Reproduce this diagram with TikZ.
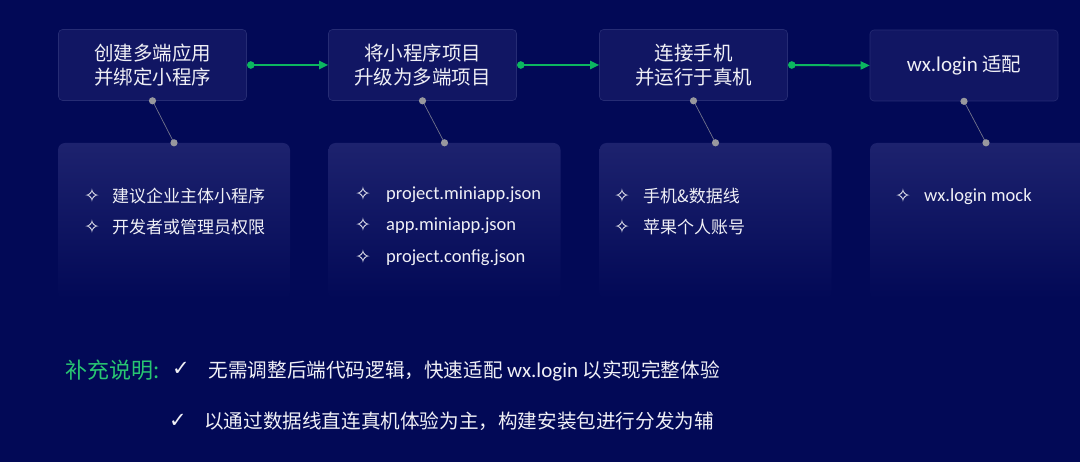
\documentclass[tikz,border=0pt]{standalone}
\usepackage{fontspec}
\setmainfont{Noto Sans CJK SC}
\newfontfamily\symfont{DejaVu Sans}
\newfontfamily\latfont{Carlito}
\usetikzlibrary{arrows.meta}
\definecolor{bg}{RGB}{2,9,86}
\definecolor{topfill}{RGB}{17,22,99}
\definecolor{topline}{RGB}{38,44,116}
\definecolor{lowtop}{RGB}{29,34,110}
\definecolor{arrowgreen}{RGB}{12,182,96}
\definecolor{labelgreen}{RGB}{40,198,114}
\definecolor{dotgray}{RGB}{152,152,158}
\definecolor{txt}{RGB}{240,240,246}
\tikzset{
  topbox/.style={draw=topline, fill=topfill, rounded corners=4pt, line width=0.6pt,
    minimum width=188pt, minimum height=71pt, inner sep=0pt, align=center,
    text=txt, font=\fontsize{19.5}{24}\selectfont},
  lowbox/.style={rounded corners=7pt, top color=lowtop, bottom color=bg, draw=none,
    minimum width=232pt, minimum height=156pt, inner sep=0pt},
  flow/.style={draw=arrowgreen, line width=2pt, shorten <=4pt,
    -{Triangle[length=9pt,width=8pt]}},
  conn/.style={draw=dotgray!75!bg, line width=0.7pt},
  bul/.style={font=\symfont\fontsize{19}{19}\selectfont, text=txt, inner sep=0pt},
  item/.style={font=\fontsize{17}{20}\selectfont, text=txt, inner sep=0pt, anchor=base west},
  litem/.style={item, font=\latfont\fontsize{18.5}{20}\selectfont},
  chk/.style={font=\symfont\fontsize{21}{21}\selectfont, text=txt, inner sep=0pt},
  note/.style={font=\fontsize{19.6}{24}\selectfont, text=txt, inner sep=0pt, anchor=base west},
}
\begin{document}
\begin{tikzpicture}[x=1pt,y=-1pt]
\useasboundingbox (0,0) rectangle (1080,462);
\clip (0,0) rectangle (1080,462);
\fill[bg] (0,0) rectangle (1080,462);

% lower detail boxes
\node[lowbox] (l1) at (174,221) {};
\node[lowbox] (l2) at (444.5,221) {};
\node[lowbox] (l3) at (715.5,221) {};
\node[lowbox] (l4) at (986,221) {};

% top step boxes
\node[topbox] (t1) at (152.5,65) {创建多端应用\\并绑定小程序};
\node[topbox] (t2) at (422.5,65) {将小程序项目\\升级为多端项目};
\node[topbox] (t3) at (693.5,65) {连接手机\\并运行于真机};
\node[topbox] (t4) at (964,65.5) {{\latfont\fontsize{21}{24}\selectfont wx.login} 适配};

% green flow arrows
\foreach \a/\b in {t1/t2,t2/t3,t3/t4}{
  \draw[flow] (\a.east) -- (\b.west);
  \fill[arrowgreen] ([xshift=4pt]\a.east) circle (3.8pt);
}

% gray connectors
\foreach \a/\b in {t1/l1,t2/l2,t3/l3,t4/l4}{
  \draw[conn] (\a.south) -- (\b.north);
  \fill[dotgray] (\a.south) circle (3.6pt);
  \fill[dotgray] (\b.north) circle (3.6pt);
}

% box 1 items
\node[bul] (b11) at (92,196) {✧};
\node[item] (i11) at (112,202.5) {建议企业主体小程序};
\node[bul] (b12) at (92,227) {✧};
\node[item] (i12) at (112,233.5) {开发者或管理员权限};

% box 2 items
\node[bul] (b21) at (363,193.5) {✧};
\node[litem] (i21) at (386,199.5) {project.miniapp.json};
\node[bul] (b22) at (363,225) {✧};
\node[litem] (i22) at (386,231) {app.miniapp.json};
\node[bul] (b23) at (363,256.5) {✧};
\node[litem] (i23) at (386,262.5) {project.config.json};

% box 3 items
\node[bul] (b31) at (622,196) {✧};
\node[item] (i31) at (643,202.5) {手机\&数据线};
\node[bul] (b32) at (622,227) {✧};
\node[item] (i32) at (643,233.5) {苹果个人账号};

% box 4 items
\node[bul] (b41) at (903,196) {✧};
\node[litem] (i41) at (924,202) {wx.login mock};

% notes
\node[note, text=labelgreen, font=\fontsize{22}{26}\selectfont] (lab) at (65,378.5) {补充说明:};
\node[chk] (c1) at (181,369) {✓};
\node[note] (n1) at (208.5,377.5) {无需调整后端代码逻辑，快速适配 {\latfont\fontsize{21}{24}\selectfont wx.login} 以实现完整体验};
\node[chk] (c2) at (178,421) {✓};
\node[note] (n2) at (204,428.5) {以通过数据线直连真机体验为主，构建安装包进行分发为辅};
\end{tikzpicture}
\end{document}
